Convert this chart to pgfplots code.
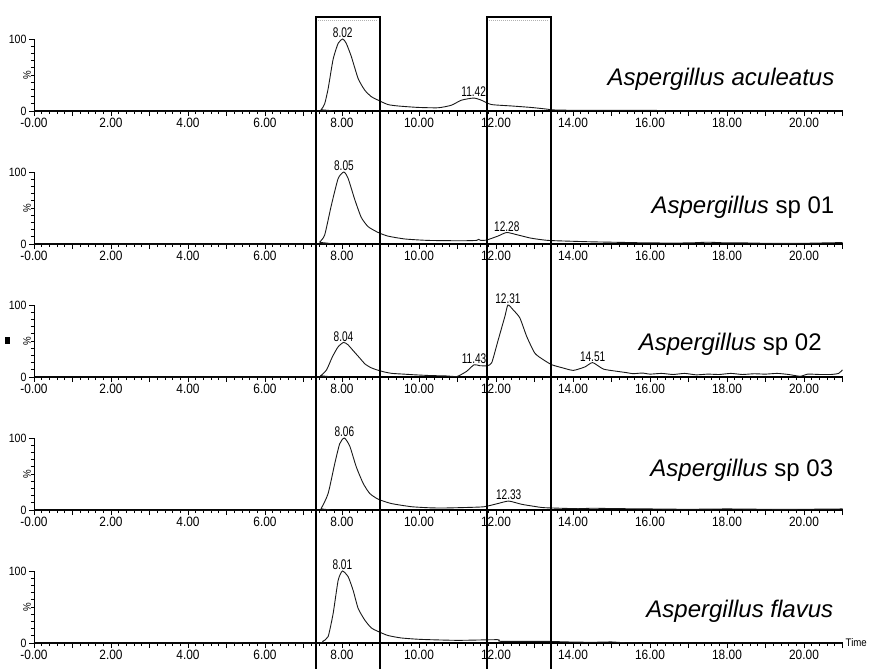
\documentclass[border=0pt]{standalone}
\usepackage{fontspec}
\setmainfont{Liberation Sans}
\newfontfamily\tickf[FakeStretch=0.88]{Liberation Sans}
\newfontfamily\peakf[FakeStretch=0.72]{Liberation Sans}
\usepackage{pgfplots}
\pgfplotsset{compat=1.18}
\pgfplotsset{chrom/.style={
  scale only axis, width=808.5pt, height=72pt,
  xmin=0, xmax=21, ymin=0, ymax=100,
  axis lines=left,
  x axis line style={-, line width=2.2pt},
  y axis line style={-, line width=0.8pt},
  xtick={0,1,...,21},
  xticklabels={-0.00,,2.00,,4.00,,6.00,,8.00,,10.00,,12.00,,14.00,,16.00,,18.00,,20.00,},
  minor x tick num=4,
  ytick={0,100}, yticklabels={0,100},
  minor ytick={10,20,...,90},
  tick align=outside,
  major tick length=5pt, minor tick length=3pt,
  every tick/.style={black, line width=0.7pt},
  xticklabel style={font=\tickf\fontsize{13.5}{14}\selectfont, yshift=1pt},
  yticklabel style={font=\tickf\fontsize{12}{12}\selectfont, xshift=1pt},
  clip=false,
  anchor=south west,
  every axis plot post/.style={black!90, line width=0.9pt, mark=none, smooth, tension=0.35},
}}
\newcommand{\pk}[3]{\node[anchor=south, font=\peakf\fontsize{14}{14}\selectfont, inner sep=1pt] at (axis cs:#1,#2) {#3};}
\newcommand{\pct}{\node[rotate=90, font=\tickf\fontsize{11}{12}\selectfont] at ([xshift=-7pt]rel axis cs:0,0.5) {\%};}
\newcommand{\species}{\fontsize{24}{28}\selectfont}
\begin{document}
\begin{tikzpicture}
\useasboundingbox (0,0) rectangle (871pt,-669pt);

% Panel 1
\begin{axis}[chrom, at={(34pt,-111pt)}]
\addplot coordinates {(0,0) (7.35,0) (7.46,2) (7.55,10) (7.64,31) (7.77,72) (7.9,94) (8.02,100) (8.11,94) (8.24,76) (8.42,45) (8.59,29) (8.76,20) (8.94,15) (9.19,9) (9.45,7) (9.97,5) (10.5,4.5) (10.84,8) (11.1,15) (11.42,18) (11.62,15) (11.88,9) (12.4,7) (12.9,5) (13.26,3) (13.5,1.5) (14,1) (15,1) (16,1) (16.3,0.5) (16.5,0) (21,0)};
\pk{8.02}{100}{8.02}
\pk{11.42}{18}{11.42}
\pct
\node[anchor=base east, font=\species] at (axis cs:20.88,36) {\textit{Aspergillus aculeatus}};
\end{axis}

% Panel 2
\begin{axis}[chrom, at={(34pt,-244pt)}]
\addplot coordinates {(0,0) (7.35,0) (7.42,2.7) (7.55,12.5) (7.72,53) (7.9,91) (8.05,100) (8.16,91) (8.33,62) (8.5,37) (8.68,24) (8.94,16) (9.19,11) (9.63,7) (10.23,5) (11.1,4.5) (11.5,5) (11.55,6.5) (11.6,5) (11.75,5.4) (12.05,11) (12.28,16) (12.57,12.5) (12.92,8) (13.35,5) (14.1,3.6) (14.5,3) (15,2.5) (15.5,2) (16,1.5) (17,1.5) (17.5,2.5) (18,1.5) (18.5,1.5) (19,1) (20,1) (20.5,1.5) (21,2)};
\pk{8.05}{100}{8.05}
\pk{12.28}{16}{12.28}
\pct
\node[anchor=base east, font=\species] at (axis cs:20.88,43) {\textit{Aspergillus} sp 01};
\end{axis}

% Panel 3
\begin{axis}[chrom, at={(34pt,-377pt)}]
\addplot coordinates {(0,0) (7.3,0) (7.45,2) (7.6,10) (7.75,28) (7.9,42) (8.04,48) (8.15,45) (8.3,36) (8.45,27) (8.6,18) (8.75,13) (8.9,10) (9.1,7) (9.3,5) (9.6,4) (9.9,3) (10.3,2) (10.7,1.5) (10.98,0.5) (11.06,2.3) (11.24,8) (11.43,17) (11.58,15.7) (11.77,15.7) (11.89,20) (12.06,52) (12.23,84) (12.31,100) (12.45,93) (12.62,82) (12.8,56) (13.01,33) (13.23,24) (13.45,17) (13.75,12.4) (14.01,9.2) (14.31,14) (14.51,20) (14.79,11) (15.13,8) (15.4,6) (15.56,4.6) (15.8,5.5) (16.0,4) (16.3,5) (16.6,3.5) (16.9,5) (17.2,3) (17.5,4) (17.8,3.5) (18.1,5) (18.4,3.5) (18.7,4.5) (19.0,4) (19.3,5) (19.6,3.5) (19.9,1) (20.1,4) (20.4,3.5) (20.7,3.5) (20.9,5) (21,10)};
\pk{8.04}{48}{8.04}
\pk{11.43}{17}{11.43}
\pk{12.31}{100}{12.31}
\pk{14.51}{20}{14.51}
\pct
\node[anchor=base east, font=\species] at (axis cs:20.55,37.5) {\textit{Aspergillus} sp 02};
\end{axis}

% Panel 4
\begin{axis}[chrom, at={(34pt,-510pt)}]
\addplot coordinates {(0,0) (7.35,0) (7.46,2.3) (7.64,23) (7.81,64) (7.94,92) (8.06,100) (8.2,89) (8.37,60) (8.55,37) (8.72,23) (8.94,15) (9.28,9) (9.8,4.6) (10.3,3) (10.67,2.8) (11.36,3.7) (11.7,4.6) (12.05,9) (12.33,12.4) (12.66,8) (13.0,5) (13.26,3.2) (14.13,1.8) (14.5,2.5) (15,2) (16,1.5) (17,1) (18,1.5) (19,1) (20,1) (21,1.5)};
\pk{8.06}{100}{8.06}
\pk{12.33}{12.4}{12.33}
\pct
\node[anchor=base east, font=\species] at (axis cs:20.85,46) {\textit{Aspergillus} sp 03};
\end{axis}

% Panel 5
\begin{axis}[chrom, at={(34pt,-643pt)}]
\addplot coordinates {(0,0) (5.0,0) (5.2,0.8) (5.5,0) (7.4,0) (7.5,2.3) (7.64,9) (7.77,41) (7.9,87) (8.01,100) (8.16,92) (8.29,73) (8.42,48) (8.59,32) (8.76,21) (8.94,16) (9.19,10.5) (9.54,7) (10.06,5) (11.01,3.7) (12.04,4.6) (12.12,2.3) (13.25,2.3) (13.94,1.4) (14.5,1) (15,1.5) (15.3,0.5) (16,0) (21,0)};
\pk{8.01}{100}{8.01}
\pct
\node[anchor=base east, font=\species] at (axis cs:20.85,36) {\textit{Aspergillus flavus}};
\node[anchor=west, font=\tickf\fontsize{11}{12}\selectfont, inner sep=1pt] at ([xshift=2pt]axis cs:21,0) {Time};
\end{axis}

% highlight boxes
\draw[line width=1.6pt] (316pt,-669pt) -- (316pt,-17pt) -- (380pt,-17pt) -- (380pt,-669pt);
\draw[line width=1.6pt] (487pt,-669pt) -- (487pt,-17pt) -- (551pt,-17pt) -- (551pt,-669pt);
\draw[gray!60, densely dotted, line width=1pt] (318pt,-20.5pt) -- (378pt,-20.5pt);
\draw[gray!60, densely dotted, line width=1pt] (489pt,-20.5pt) -- (549pt,-20.5pt);
\fill (5pt,-337pt) rectangle (10pt,-344pt);
\end{tikzpicture}
\end{document}
